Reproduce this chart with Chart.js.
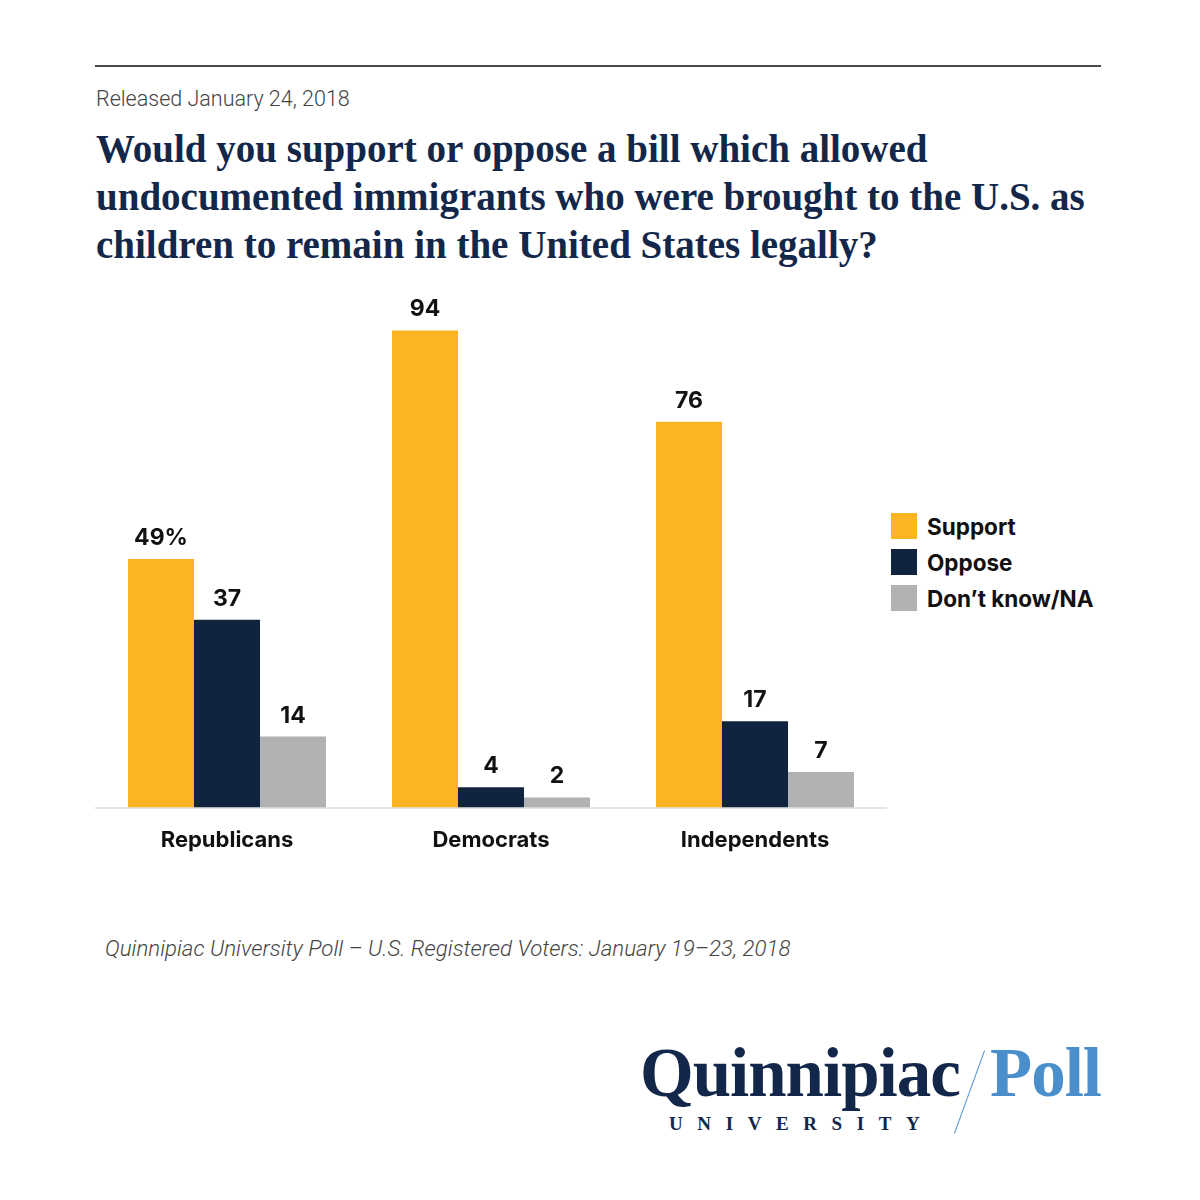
<!DOCTYPE html>
<html>
<head>
<meta charset="utf-8">
<script src="https://cdn.jsdelivr.net/npm/chart.js@4.4.0/dist/chart.umd.min.js"></script>
<style>
  body { margin: 0; background: #fff; width: 1200px; height: 1200px; position: relative; overflow: hidden; }
  .rule { position: absolute; left: 95px; top: 65px; width: 1006px; height: 2px; background: #4a4a4a; }
  .released { position: absolute; left: 96px; top: 86px; font: 300 21.5px Roboto, sans-serif; color: #444; }
  .title { position: absolute; left: 96px; top: 125px; width: 1040px; font: 700 39px "Liberation Serif", serif; line-height: 48px; color: #13274a; }
  #wrap { position: absolute; left: 95px; top: 290px; width: 792px; height: 584px; }
  .legend { position: absolute; left: 891px; top: 508px; font: 700 22.5px Inter, sans-serif; color: #111; }
  .legend div { height: 36px; display: flex; align-items: center; }
  .legend span.box { display: inline-block; width: 26px; height: 26px; margin-right: 10px; }
  .note { position: absolute; left: 105px; top: 935px; font: italic 300 22.3px Roboto, sans-serif; color: #444; }
  .logo1 { position: absolute; left: 640px; top: 1034px; font: 700 69px "Liberation Serif", serif; color: #13274a; letter-spacing: -1px; }
  .logo2 { position: absolute; left: 990px; top: 1034px; font: 700 69px "Liberation Serif", serif; color: #4a8fcc; letter-spacing: -1px; }
  .slash { position: absolute; left: 969px; top: 1048px; width: 1px; height: 88px; background: #4a8fcc; transform: rotate(20deg); }
  .uni { position: absolute; left: 669px; top: 1113px; font: 700 19px "Liberation Serif", serif; color: #13274a; letter-spacing: 14.6px; }
</style>
</head>
<body>
<div class="rule"></div>
<div class="released">Released January 24, 2018</div>
<div class="title">Would you support or oppose a bill which allowed<br>undocumented immigrants who were brought to the U.S. as<br>children to remain in the United States legally?</div>
<div id="wrap"><canvas id="pollChart"></canvas></div>
<div class="legend" id="legend"></div>
<div class="note">Quinnipiac University Poll – U.S. Registered Voters: January 19–23, 2018</div>
<div class="logo1">Quinnipiac</div>
<div class="slash"></div>
<div class="logo2">Poll</div>
<div class="uni">UNIVERSITY</div>
<script>
'use strict'
var groups = ['Republicans', 'Democrats', 'Independents'];
var seriesNames = ['Support', 'Oppose', 'Don\u2019t know/NA'];
var support = [49, 94, 76];
var oppose = [37, 4, 17];
var dontKnow = [14, 2, 7];
var colors = ['#fbb424', '#10233f', '#b1b2b4'];

var legend = document.getElementById('legend');
seriesNames.forEach(function(name, i) {
    var row = document.createElement('div');
    row.innerHTML = '<span class="box" style="background:' + colors[i] + '"></span>' + name;
    legend.appendChild(row);
});

var valueLabels = {
    id: 'valueLabels',
    afterDatasetsDraw: function(chart) {
        var ctx = chart.ctx;
        ctx.save();
        ctx.font = '700 23px Inter, sans-serif';
        ctx.fillStyle = '#111';
        ctx.textAlign = 'center';
        ctx.textBaseline = 'alphabetic';
        chart.data.datasets.forEach(function(ds, di) {
            chart.getDatasetMeta(di).data.forEach(function(bar, i) {
                var txt = String(ds.data[i]);
                if (di === 0 && i === 0) txt += '%';
                ctx.fillText(txt, bar.x, bar.y - 14);
            });
        });
        ctx.restore();
    }
};

var ctx = document.getElementById('pollChart');
new Chart(ctx, {
    type: 'bar',
    data: {
        labels: groups,
        datasets: [
            { label: seriesNames[0], data: support, backgroundColor: colors[0] },
            { label: seriesNames[1], data: oppose, backgroundColor: colors[1] },
            { label: seriesNames[2], data: dontKnow, backgroundColor: colors[2] }
        ]
    },
    options: {
        responsive: true,
        maintainAspectRatio: false,
        animation: false,
        layout: { padding: { top: 10, left: 0, right: 0, bottom: 0 } },
        datasets: { bar: { categoryPercentage: 0.75, barPercentage: 1 } },
        plugins: { legend: { display: false }, tooltip: { enabled: false } },
        scales: {
            x: {
                grid: { display: false, drawTicks: false },
                border: { display: true, color: '#e3e3e3', width: 2 },
                ticks: { color: '#111', padding: 20, font: { family: 'Inter, sans-serif', size: 22, weight: '700' } }
            },
            y: { display: false, min: 0, max: 100 }
        }
    },
    plugins: [valueLabels]
});
</script>
</body>
</html>
